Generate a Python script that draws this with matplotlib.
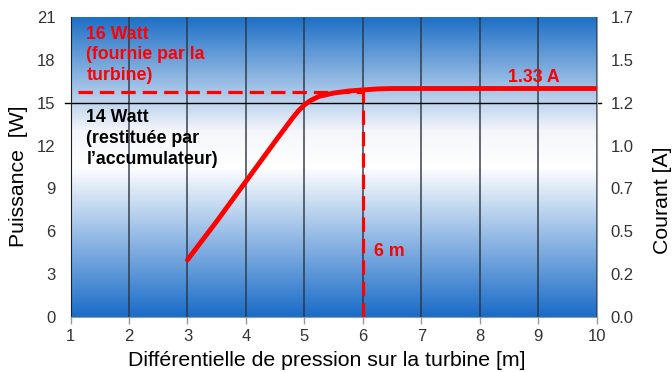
import numpy as np
import matplotlib
matplotlib.use('Agg')
import matplotlib.pyplot as plt
from matplotlib.colors import LinearSegmentedColormap

plt.rcParams['font.family'] = ['Liberation Sans', 'DejaVu Sans']

# données
x_m = [3.0, 3.5, 4.0, 4.5, 4.6, 4.7, 4.8, 4.9, 5.0, 5.1, 5.25, 5.5, 5.75, 6.0, 6.25, 6.5, 7.0, 8.0, 9.0, 10.0]
p_w = [4.0, 6.7, 9.5, 12.3, 12.85, 13.4, 13.95, 14.45, 14.85, 15.15, 15.45, 15.68, 15.82, 15.9, 15.97, 16.0, 16.0, 16.0, 16.0, 16.0]
p_ref = 15.75      # ligne pointillée "16 Watt"
p_acc = 15.0       # ligne noire "14 Watt"
x_op = 6.0         # point de fonctionnement
yticks_w = [0, 3, 6, 9, 12, 15, 18, 21]
yticks_a = ['0.0', '0.2', '0.5', '0.7', '1.0', '1.2', '1.5', '1.7']
xticks_m = list(range(1, 11))

fig = plt.figure(figsize=(6.72, 3.72), dpi=100)
ax = fig.add_axes([0.105, 0.148, 0.783, 0.806])
ax.set_xlim(1, 10)
ax.set_ylim(0, 21)

# fond dégradé bleu -> blanc -> bleu
cmap = LinearSegmentedColormap.from_list('bg', [(0, '#1a6cc8'), (0.5, '#ffffff'), (0.62, '#f4f6fb'), (1, '#1e70c6')])
grad = np.linspace(0, 1, 256).reshape(-1, 1)
ax.imshow(grad, aspect='auto', cmap=cmap, extent=[1, 10, 0, 21], origin='lower', zorder=0)

for xv in xticks_m[1:]:
    ax.axvline(xv, color='#2b3440', lw=1.2, alpha=0.85, zorder=1)

ax.plot([1 - 0.1, 10 + 0.07], [p_acc, p_acc], color='black', lw=1, clip_on=False, zorder=2)

ax.plot([1.13, x_op], [p_ref, p_ref], color='#ff0000', lw=2.3, ls=(0, (4.5, 2.2)), zorder=3)
ax.plot([x_op, x_op], [0, 15.9], color='#ff0000', lw=2.3, ls=(0, (4.5, 2.2)), zorder=3)
ax.plot(x_m, p_w, color='#ff0000', lw=3.5, solid_capstyle='round', solid_joinstyle='round', zorder=4)

ax.text(1.27, 18.35, '16 Watt\n(fournie par la\nturbine)', color='#ff0000', fontsize=12.8,
        fontweight='bold', ha='left', va='center', linespacing=1.3)
ax.text(1.27, 12.5, '14 Watt\n(restituée par\nl\u2019accumulateur)', color='black', fontsize=12.8,
        fontweight='bold', ha='left', va='center', linespacing=1.3)
ax.text(8.93, 16.8, '1.33 A', color='#ff0000', fontsize=12.8, fontweight='bold', ha='center', va='center')
ax.text(6.19, 4.6, '6 m', color='#ff0000', fontsize=12.8, fontweight='bold', ha='left', va='center')

for s in ['top', 'right']:
    ax.spines[s].set_visible(False)
ax.spines['left'].set_color('#222222')
ax.spines['bottom'].set_color('#999999')

ax.set_xticks(xticks_m)
ax.set_yticks(yticks_w)
ax.tick_params(axis='x', colors='#999999', length=5, width=1, pad=4, labelsize=12, labelcolor='#333333')
ax.tick_params(axis='y', length=0, pad=11, labelsize=12, labelcolor='#333333')

ax2 = ax.twinx()
ax2.set_ylim(0, 21)
ax2.set_yticks(yticks_w)
ax2.set_yticklabels(yticks_a)
ax2.tick_params(axis='y', length=0, pad=10, labelsize=12, labelcolor='#333333')
for s in ['top', 'left', 'bottom']:
    ax2.spines[s].set_visible(False)
ax2.spines['right'].set_color('#999999')

ax.set_xlabel('Différentielle de pression sur la turbine [m]', fontsize=15.3)
ax.xaxis.set_label_coords(0.486, -0.115)
ax.set_ylabel('Puissance  [W]', fontsize=15.3)
ax.yaxis.set_label_coords(-0.08, 0.47)
ax2.set_ylabel('Courant [A]', fontsize=15.3)
ax2.yaxis.set_label_coords(1.106, 0.39)

fig.savefig('out.png', dpi=100)
